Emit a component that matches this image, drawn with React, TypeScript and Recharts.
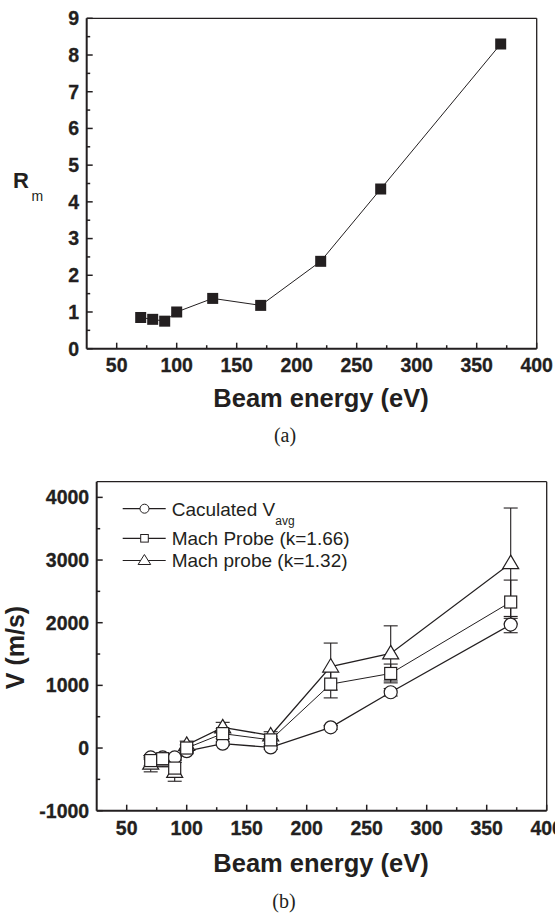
import React from "react";
import { ErrorBar, Line, LineChart, XAxis, YAxis } from "recharts";

// ---- data (a) ----
const energiesA = [70, 80, 90, 100, 130, 170, 220, 270, 370];
const rmValues = [0.85, 0.8, 0.75, 1.0, 1.37, 1.18, 2.38, 4.35, 8.3];

// ---- data (b) ----
const energiesB = [70, 80, 90, 100, 130, 170, 220, 270, 370];
const vAvg = [-150, -150, -150, -50, 70, 10, 330, 890, 1970];
const vAvgErr = [30, 30, 30, 30, 30, 30, 30, 60, 130];
const vProbe166 = [-200, -170, -320, 0, 230, 130, 1020, 1190, 2330];
const vProbe166Err = [80, 80, 120, 50, 80, 60, 220, 150, 350];
const vProbe132 = [-250, -200, -380, 50, 330, 200, 1300, 1510, 2950];
const vProbe132Err = [130, 100, 150, 60, 80, 60, 375, 440, 880];

// ---- ticks ----
const xMajorTicks = [50, 100, 150, 200, 250, 300, 350, 400];
const xMinorTicks = [75, 125, 175, 225, 275, 325, 375];
const yMajorTicksA = [0, 1, 2, 3, 4, 5, 6, 7, 8, 9];
const yMinorTicksA = [0.5, 1.5, 2.5, 3.5, 4.5, 5.5, 6.5, 7.5, 8.5];
const yMajorTicksB = [-1000, 0, 1000, 2000, 3000, 4000];
const yMinorTicksB = [-500, 500, 1500, 2500, 3500];

const dataA = energiesA.map((e, i) => ({ energy: e, rm: rmValues[i] }));
const dataB = energiesB.map((e, i) => ({
  energy: e,
  avg: vAvg[i],
  avgErr: vAvgErr[i],
  p166: vProbe166[i],
  p166Err: vProbe166Err[i],
  p132: vProbe132[i],
  p132Err: vProbe132Err[i],
}));

const INK = "#231f20";
const SANS = "'Liberation Sans', Arial, sans-serif";
const SERIF = "'Liberation Serif', 'Times New Roman', serif";

const XTick = ({ x, y, payload, labelDy }: any) => {
  const major = xMajorTicks.includes(payload.value);
  return (
    <g>
      <line x1={x} x2={x} y1={y} y2={y - (major ? 6 : 3.5)} stroke={INK} strokeWidth={1.5} />
      {major && (
        <text x={x} y={y + labelDy} textAnchor="middle" fontFamily={SANS} fontWeight={700} fontSize={19.5} fill={INK} stroke={INK} strokeWidth={0.3}>
          {payload.value}
        </text>
      )}
    </g>
  );
};

const YTick = ({ x, y, payload, majors }: any) => {
  const major = majors.includes(payload.value);
  return (
    <g>
      <line x1={x} x2={x + (major ? 6 : 3.5)} y1={y} y2={y} stroke={INK} strokeWidth={1.5} />
      {major && (
        <text x={x - 7.5} y={y + 6.8} textAnchor="end" fontFamily={SANS} fontWeight={700} fontSize={19.5} fill={INK} stroke={INK} strokeWidth={0.3}>
          {payload.value}
        </text>
      )}
    </g>
  );
};

const SquareFilled = (p: any) => (
  <rect key={p.index} x={p.cx - 5.5} y={p.cy - 5.5} width={11} height={11} fill={INK} />
);

const CircleOpen = (p: any) => (
  <circle key={p.index} cx={p.cx} cy={p.cy} r={6.5} fill="#fff" stroke={INK} strokeWidth={1.2} />
);

const SquareOpen = (p: any) => (
  <rect key={p.index} x={p.cx - 6} y={p.cy - 6} width={12} height={12} fill="#fff" stroke={INK} strokeWidth={1.2} />
);

const TriangleOpen = (p: any) => (
  <path
    key={p.index}
    d={`M${p.cx},${p.cy - 8} L${p.cx + 8},${p.cy + 5.5} L${p.cx - 8},${p.cy + 5.5} Z`}
    fill="#fff"
    stroke={INK}
    strokeWidth={1.2}
  />
);

const legendRows = [
  { label: "Caculated V", sub: "avg", shape: "circle", y: 508.7 },
  { label: "Mach Probe (k=1.66)", sub: "", shape: "square", y: 538.3 },
  { label: "Mach probe (k=1.32)", sub: "", shape: "triangle", y: 560.5 },
];

const LegendRows = () => (
  <g>
    {legendRows.map((r) => (
      <g key={r.label}>
        <line x1={122.7} x2={165.7} y1={r.y} y2={r.y} stroke={INK} strokeWidth={1.2} />
        {r.shape === "circle" && <circle cx={144.5} cy={r.y} r={4.5} fill="#fff" stroke={INK} strokeWidth={1} />}
        {r.shape === "square" && (
          <rect x={140.7} y={r.y - 3.8} width={7.6} height={7.6} fill="#fff" stroke={INK} strokeWidth={1} />
        )}
        {r.shape === "triangle" && (
          <path
            d={`M144.4,${r.y - 6} L150.7,${r.y + 4} L138.1,${r.y + 4} Z`}
            fill="#fff"
            stroke={INK}
            strokeWidth={1}
          />
        )}
        <text x={171.7} y={r.y + 6.8} fontFamily={SANS} fontSize={19} fill={INK}>
          {r.label}
          {r.sub && (
            <tspan dy={9} fontSize={12}>
              {r.sub}
            </tspan>
          )}
        </text>
      </g>
    ))}
  </g>
);

export default function App() {
  return (
    <div style={{ position: "absolute", left: 0, top: 0, width: 555, height: 915, background: "#fff", overflow: "hidden" }}>
      {/* (a) */}
      <div style={{ position: "absolute", left: 0, top: 0 }}>
        <LineChart width={555} height={400} data={dataA} margin={{ top: 17.3, right: 17.3, bottom: 50.3, left: 85.7 }}>
          <XAxis
            type="number"
            dataKey="energy"
            domain={[25, 400]}
            ticks={[...xMajorTicks, ...xMinorTicks]}
            interval={0}
            height={1}
            tickSize={0}
            tickMargin={0}
            tickLine={false}
            axisLine={{ stroke: INK, strokeWidth: 2 }}
            tick={(p: any) => <XTick {...p} labelDy={23} />}
          />
          <XAxis xAxisId="top" orientation="top" type="number" domain={[25, 400]} height={1} tick={false} tickLine={false} axisLine={{ stroke: INK, strokeWidth: 1.3 }} />
          <YAxis
            type="number"
            domain={[0, 9]}
            ticks={[...yMajorTicksA, ...yMinorTicksA]}
            interval={0}
            width={1}
            tickSize={0}
            tickMargin={0}
            tickLine={false}
            axisLine={{ stroke: INK, strokeWidth: 2 }}
            tick={(p: any) => <YTick {...p} majors={yMajorTicksA} />}
          />
          <YAxis yAxisId="right" orientation="right" type="number" domain={[0, 9]} width={1} tick={false} tickLine={false} axisLine={{ stroke: INK, strokeWidth: 1.3 }} />
          <Line dataKey="rm" stroke={INK} strokeWidth={1} dot={SquareFilled} isAnimationActive={false} />
        </LineChart>
      </div>

      {/* (b) */}
      <div style={{ position: "absolute", left: 0, top: 450 }}>
        <LineChart width={555} height={415} data={dataB} margin={{ top: 30.7, right: 7.3, bottom: 53.3, left: 95.7 }}>
          <XAxis
            type="number"
            dataKey="energy"
            domain={[25, 400]}
            ticks={[...xMajorTicks, ...xMinorTicks]}
            interval={0}
            height={1}
            tickSize={0}
            tickMargin={0}
            tickLine={false}
            axisLine={{ stroke: INK, strokeWidth: 2 }}
            tick={(p: any) => <XTick {...p} labelDy={24.4} />}
          />
          <XAxis xAxisId="top" orientation="top" type="number" domain={[25, 400]} height={1} tick={false} tickLine={false} axisLine={{ stroke: INK, strokeWidth: 1.3 }} />
          <YAxis
            type="number"
            domain={[-1000, 4250]}
            allowDataOverflow
            ticks={[...yMajorTicksB, ...yMinorTicksB]}
            interval={0}
            width={1}
            tickSize={0}
            tickMargin={0}
            tickLine={false}
            axisLine={{ stroke: INK, strokeWidth: 2 }}
            tick={(p: any) => <YTick {...p} majors={yMajorTicksB} />}
          />
          <YAxis yAxisId="right" orientation="right" type="number" domain={[-1000, 4250]} width={1} tick={false} tickLine={false} axisLine={{ stroke: INK, strokeWidth: 1.3 }} />
          <Line dataKey="avg" stroke={INK} strokeWidth={1.3} dot={CircleOpen} isAnimationActive={false}>
            <ErrorBar dataKey="avgErr" width={7} stroke={INK} strokeWidth={1.1} direction="y" isAnimationActive={false} />
          </Line>
          <Line dataKey="p132" stroke={INK} strokeWidth={1.3} dot={TriangleOpen} isAnimationActive={false}>
            <ErrorBar dataKey="p132Err" width={7} stroke={INK} strokeWidth={1.1} direction="y" isAnimationActive={false} />
          </Line>
          <Line dataKey="p166" stroke={INK} strokeWidth={1} dot={SquareOpen} isAnimationActive={false}>
            <ErrorBar dataKey="p166Err" width={7} stroke={INK} strokeWidth={1.1} direction="y" isAnimationActive={false} />
          </Line>
        </LineChart>
      </div>

      {/* legend, titles and captions */}
      <svg width={555} height={915} style={{ position: "absolute", left: 0, top: 0, pointerEvents: "none" }}>
        <LegendRows />
        <text x={321} y={407} textAnchor="middle" fontFamily={SANS} fontWeight="bold" fontSize={25.5} fill={INK}>
          Beam energy (eV)
        </text>
        <text x={13} y={188.3} fontFamily={SANS} fontWeight="bold" fontSize={22} fill={INK}>
          R
          <tspan x={31.5} y={201} fontWeight="normal" fontSize={14}>
            m
          </tspan>
        </text>
        <text x={285} y={441.5} textAnchor="middle" fontFamily={SERIF} fontSize={20} fill={INK}>
          (a)
        </text>
        <text x={321} y={871.7} textAnchor="middle" fontFamily={SANS} fontWeight="bold" fontSize={25.5} fill={INK}>
          Beam energy (eV)
        </text>
        <text
          x={24}
          y={647.5}
          transform="rotate(-90 24 647.5)"
          textAnchor="middle"
          fontFamily={SANS}
          fontWeight="bold"
          fontSize={25}
          fill={INK}
        >
          V (m/s)
        </text>
        <text x={284} y={908} textAnchor="middle" fontFamily={SERIF} fontSize={20} fill={INK}>
          (b)
        </text>
      </svg>
    </div>
  );
}
